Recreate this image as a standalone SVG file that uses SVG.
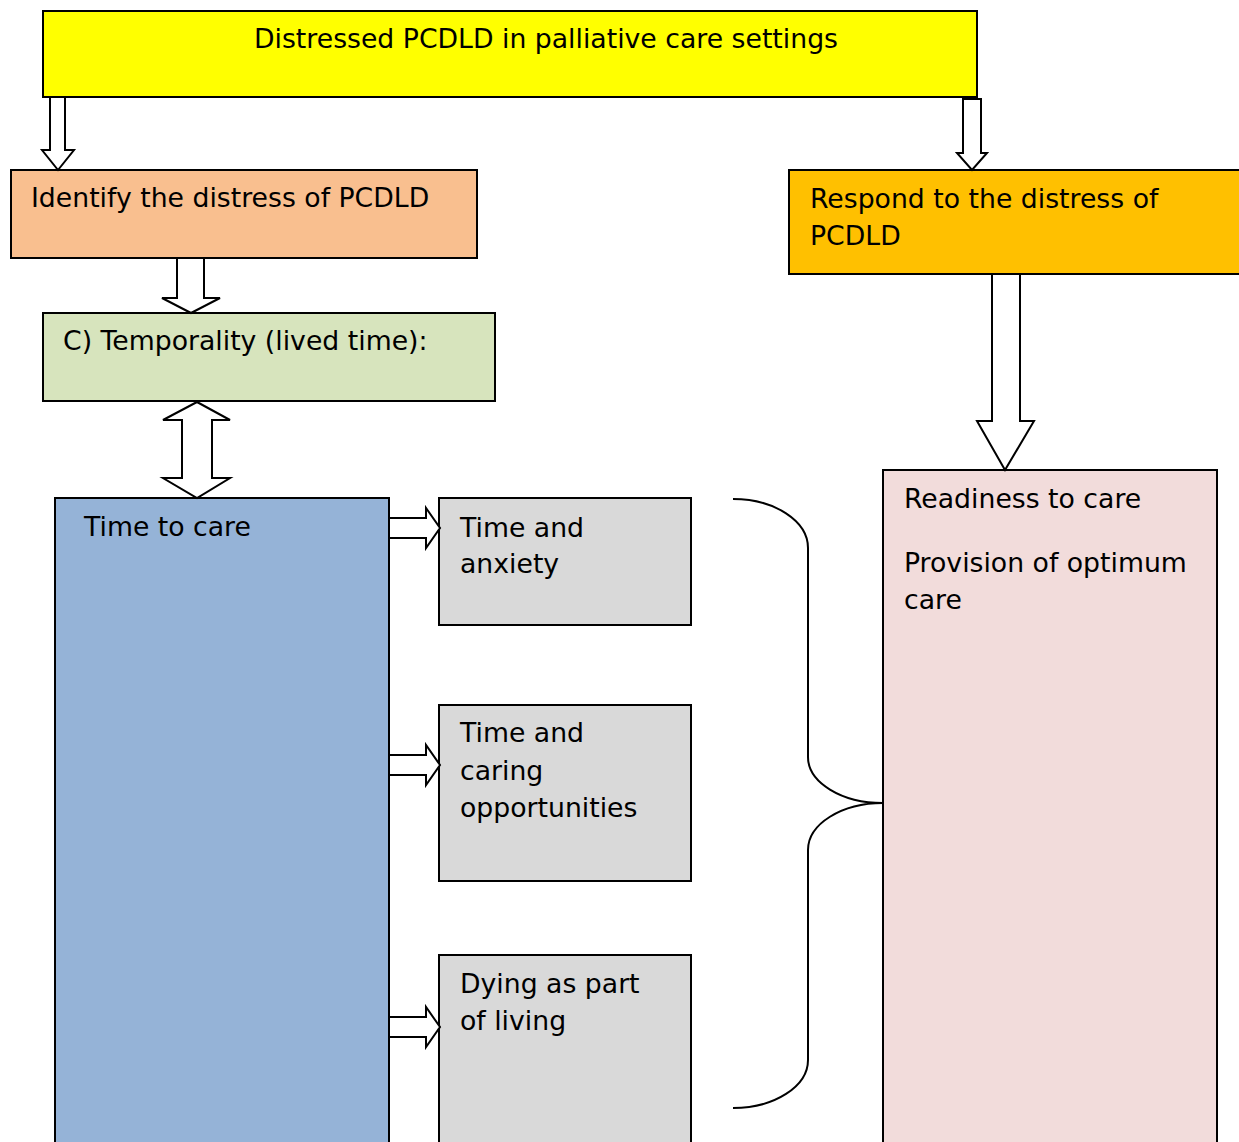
<svg xmlns="http://www.w3.org/2000/svg" width="1239" height="1142" viewBox="0 0 1239 1142">
  <style>
    .box { stroke: #000; stroke-width: 2; }
    .lbl { font-family: "DejaVu Sans", Verdana, sans-serif; font-size: 26.7px; fill: #000; }
    .arr { fill: #fff; stroke: #000; stroke-width: 2; stroke-linejoin: miter; }
    .brace { fill: none; stroke: #000; stroke-width: 2; }
  </style>
  <rect width="1239" height="1142" fill="#fff"/>

  <g id="top">
    <rect class="box" x="43" y="11" width="934" height="86" fill="#FFFF00"/>
    <text class="lbl" x="546" y="48" text-anchor="middle">Distressed PCDLD in palliative care settings</text>
  </g>

  <g id="identify">
    <rect class="box" x="11" y="170" width="466" height="88" fill="#F9BF8F"/>
    <text class="lbl" x="31" y="207">Identify the distress of PCDLD</text>
  </g>

  <g id="respond">
    <rect class="box" x="789" y="170" width="460" height="104" fill="#FFC000"/>
    <text class="lbl" x="810" y="208">Respond to the distress of</text>
    <text class="lbl" x="810" y="245">PCDLD</text>
  </g>

  <g id="temporality">
    <rect class="box" x="43" y="313" width="452" height="88" fill="#D7E4BD"/>
    <text class="lbl" x="63" y="350">C) Temporality (lived time):</text>
  </g>

  <g id="time-to-care">
    <rect class="box" x="55" y="498" width="334" height="660" fill="#95B3D7"/>
    <text class="lbl" x="84" y="536">Time to care</text>
  </g>

  <g id="time-anxiety">
    <rect class="box" x="439" y="498" width="252" height="127" fill="#D9D9D9"/>
    <text class="lbl" x="460" y="537">Time and</text>
    <text class="lbl" x="460" y="573">anxiety</text>
  </g>

  <g id="time-caring">
    <rect class="box" x="439" y="705" width="252" height="176" fill="#D9D9D9"/>
    <text class="lbl" x="460" y="742">Time and</text>
    <text class="lbl" x="460" y="780">caring</text>
    <text class="lbl" x="460" y="817">opportunities</text>
  </g>

  <g id="dying">
    <rect class="box" x="439" y="955" width="252" height="200" fill="#D9D9D9"/>
    <text class="lbl" x="460" y="993">Dying as part</text>
    <text class="lbl" x="460" y="1030">of living</text>
  </g>

  <g id="readiness">
    <rect class="box" x="883" y="470" width="334" height="690" fill="#F2DCDB"/>
    <text class="lbl" x="904" y="508">Readiness to care</text>
    <text class="lbl" x="904" y="572">Provision of optimum</text>
    <text class="lbl" x="904" y="609">care</text>
  </g>

  <g id="connectors">
    <!-- block arrows, drawn as outlined polygons -->
    <polygon class="arr" points="50,97 65,97 65,150 74,150 58,170 42,150 50,150"/>
    <polygon class="arr" points="963,99 981,99 981,153 987,153 972,170 957,153 963,153"/>
    <polygon class="arr" points="177,258 204,258 204,298 220,298 191,313 162,298 177,298"/>
    <polygon class="arr" points="197,402 230,420 212,420 212,478 230,478 197,498 163,478 182,478 182,420 163,420"/>
    <polygon class="arr" points="992,274 1020,274 1020,421 1034,421 1005,470 977,421 992,421"/>
    <polygon class="arr" points="389,518 426,518 426,508 440,528 426,548 426,538 389,538"/>
    <polygon class="arr" points="389,755 426,755 426,745 440,765 426,785 426,775 389,775"/>
    <polygon class="arr" points="389,1017 426,1017 426,1007 440,1027 426,1047 426,1037 389,1037"/>
    <!-- curly brace joining the three themes -->
    <path class="brace" d="M733,499 A75,49 0 0 1 808,548 L808,757 A75,46 0 0 0 883,803 A75,47 0 0 0 808,850 L808,1060 A75,48 0 0 1 733,1108"/>
  </g>
</svg>
